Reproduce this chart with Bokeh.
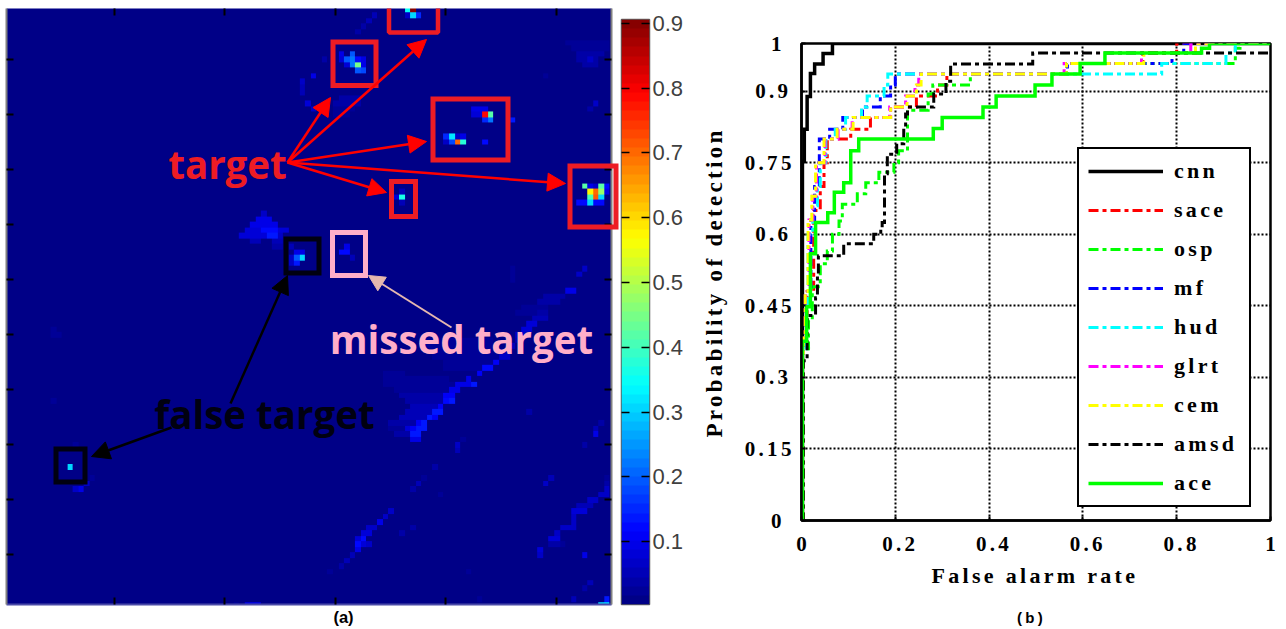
import math
import numpy as np
from bokeh.core.properties import value
from bokeh.embed import file_html
from bokeh.layouts import row, column
from bokeh.models import (Arrow, FixedTicker, Legend, LegendItem, LinearAxis, LinearColorMapper,
                          NormalHead, Range1d)
from bokeh.plotting import figure
from bokeh.resources import INLINE

# ---------- panel (a): detection map, cells are (column, row, score) ----------
target_cells = [
    (73,1,.35),(74,1,.9),(73,2,.07),(74,2,.3),(75,2,.15),
    (61,9,.1),(63,9,.2),(61,10,.08),(62,10,.2),(63,10,.22),(64,10,.12),(65,10,.1),
    (62,11,.08),(63,11,.22),(64,11,.45),(65,11,.1),(64,12,.2),(65,12,.18),
    (85,19,.1),(86,19,.1),(87,19,.1),(85,20,.08),(86,20,.08),(87,20,.78),(88,20,.42),
    (87,21,.15),(88,21,.22),(92,21,.13),
    (80,24,.15),(81,24,.32),(82,24,.06),(83,24,.1),(80,25,.06),(81,25,.18),(82,25,.7),(83,25,.37),(87,25,.12),
    (72,34,.05),(71,35,.08),(72,35,.36),(72,36,.05),
    (105,33,.42),(106,33,.1),(107,33,.06),(108,33,.42),(109,33,.12),
    (106,34,.58),(107,34,.7),(108,34,.47),(109,34,.1),
    (106,35,.4),(107,35,.72),(108,35,.3),
    (104,36,.12),(105,36,.12),(106,36,.3),(107,36,.12),(108,36,.12),
    (62,44,.1),(61,45,.12),(62,45,.12),(63,46,.05),
]
false_cells = [
    (52,44,.05),(53,45,.1),(54,45,.1),(52,46,.07),(53,46,.2),(54,46,.3),(52,47,.07),(53,47,.14),
    (12,84,.3),(13,88,.06),(14,88,.1),(15,87,.07),(16,86,.03),
    (109,109,.3),(108,109,.3),(109,108,.13),(44,109,.1),(45,109,.1),(46,109,.1),(42,109,.03),
]
clutter_cells = [
    (67,2,.05),(66,3,.05),(65,4,.04),(64,5,.04),(58,10,.04),
    (56,13,.1),(54,14,.07),(54,15,.05),(54,16,.05),(55,18,.08),(56,19,.06),
    (106,10,.07),(107,18,.06),(106,19,.04),(98,13,.03),
    (102,52,.1),(103,52,.09),(104,49,.06),(105,48,.07),
    (9,59,.03),(9,60,.03),(10,60,.03),(9,72,.03),(13,80,.02),
    (82,80,.06),(82,81,.05),(83,79,.03),(78,84,.04),(76,86,.03),(75,87,.05),(74,88,.04),(79,89,.03),
    (72,96,.04),(74,95,.04),(84,103,.03),(86,108,.03),
    (107,78,.09),(107,77,.05),(108,76,.04),(105,80,.04),(98,87,.07),(99,86,.05),
    (105,100,.09),(106,105,.05),(105,106,.04),(103,108,.05),(95,74,.04),
]
blob_runs = [  # (row, first column, last column, score)
    (38,47,47,.07),(39,46,48,.1),(40,45,49,.1),(41,44,46,.08),(41,47,49,.12),(41,50,51,.08),
    (42,43,47,.08),(42,48,49,.13),(42,50,50,.06),(43,45,46,.05),(43,49,50,.05),(44,49,50,.04),
    (7,102,109,.025),(8,103,109,.03),(9,104,108,.035),(10,104,107,.04),(11,105,107,.035),
    (17,61,64,.035),(18,60,64,.035),(19,60,63,.025),(20,60,62,.025),
    (48,92,92,.025),(49,92,92,.025),(50,92,92,.025),(53,98,101,.035),(54,97,100,.035),(55,94,98,.025),(56,93,97,.025),
]
ridge_runs = [
    (67,69,72,.02),(68,69,73,.02),(68,74,80,.025),(69,69,72,.025),(69,73,81,.03),(70,71,80,.03),
    (71,72,79,.04),(72,73,79,.045),(73,74,78,.05),(74,73,77,.05),(75,72,76,.05),(76,70,74,.04),
    (77,70,72,.03),(78,71,73,.04),(61,76,88,.02),(62,76,88,.02),(63,78,90,.02),(64,78,89,.02),(65,80,88,.02),(66,80,86,.02),
    (79,74,75,.1),(78,74,75,.13),(77,73,73,.08),(77,74,74,.11),(77,75,75,.13),(77,76,76,.14),
    (76,75,75,.11),(76,76,76,.14),(75,77,77,.13),(75,78,78,.11),(74,78,79,.14),(73,79,79,.11),
    (72,80,80,.12),(72,81,81,.14),(71,80,81,.11),(70,81,82,.09),(69,82,84,.1),(69,85,85,.13),
    (68,84,84,.1),(67,86,86,.11),(66,87,88,.12),(65,89,89,.11),(64,90,91,.06),(63,91,91,.05),
    (62,92,92,.05),(61,93,93,.05),(60,93,94,.06),(59,94,95,.08),(58,95,96,.08),(57,96,98,.05),(56,97,98,.04),
    (92,70,70,.06),(93,69,69,.07),(94,68,68,.1),(95,66,67,.07),(96,65,66,.08),(97,64,64,.08),(97,65,65,.12),
    (98,64,64,.12),(98,65,65,.08),(98,66,66,.06),(99,64,64,.1),(100,63,63,.05),(101,62,62,.05),(102,61,61,.04),(103,59,59,.03),
    (100,97,97,.07),(99,97,97,.08),(98,99,100,.04),(98,101,101,.03),(97,99,100,.08),(96,100,100,.07),
    (95,101,103,.07),(94,103,103,.06),(93,103,103,.06),(92,103,105,.08),(91,104,106,.05),(90,106,107,.06),
    (89,108,109,.07),(88,109,109,.06),(87,109,109,.04),(86,109,109,.03),
]
map_x_ticks = [20, 40, 60, 80, 100]
map_y_ticks = [10, 20, 30, 40, 50, 60, 70, 80, 90, 100]
colorbar_ticks = [.1, .2, .3, .4, .5, .6, .7, .8, .9]

# overlays of panel (a), given in page pixels of the picture
red_box_l = [332.5, 432.5, 391, 569.5]
red_box_r = [375.5, 507.5, 415, 615.5]
red_box_t = [41.5, 98.5, 181, 165.5]
red_box_b = [85, 159.5, 216, 226.5]
top_box = (388.5, 437.5, -10, 32)
black_box_l = [285.5, 55.5]
black_box_r = [318.5, 84.5]
black_box_t = [238.5, 448.5]
black_box_b = [272.5, 481.5]
pink_box = (332, 365, 232, 275)
red_arrows = [(287, 162, 330, 97), (287, 162, 426, 39), (287, 162, 426, 141), (287, 162, 565, 183), (287, 162, 386, 192)]
black_arrows = [(230, 403, 287, 275), (171, 427, 91, 456)]
pink_arrow = (451, 327, 368, 275)

# ---------- panel (b): ROC curves ----------
cnn_fa = [0, .002, .006, .012, .019, .028, .046, .066, 1]
cnn_pd = [0, .753, .82, .889, .937, .957, .979, 1, 1]
sace_fa = [0, .004, .012, .026, .04, .048, .055, .105, .147, .19, .245, .29, .31, .565, .728, .80, 1]
sace_pd = [0, .38, .48, .65, .70, .75, .80, .82, .845, .867, .89, .913, .936, .958, .98, 1, 1]
osp_fa = [0, .004, .015, .023, .04, .055, .066, .08, .087, .119, .137, .165, .197, .207, .226, .27, .28, .36, .565, .925, .935, 1]
osp_pd = [0, .36, .42, .49, .538, .565, .60, .628, .663, .685, .708, .73, .75, .775, .86, .894, .913, .936, .958, .99, 1, 1]
mf_fa = [0, .004, .009, .02, .028, .038, .06, .088, .13, .168, .19, .2, .567, .79, .815, 1]
mf_pd = [0, .38, .48, .63, .70, .80, .82, .845, .867, .89, .913, .936, .958, .98, 1, 1]
hud_fa = [0, .004, .010, .014, .024, .034, .04, .052, .072, .094, .128, .14, .176, .184, .768, .905, .925, 1]
hud_pd = [0, .36, .45, .60, .66, .70, .75, .80, .82, .845, .867, .89, .913, .936, .958, .98, 1, 1]
glrt_fa = [0, .004, .008, .016, .024, .032, .05, .078, .108, .188, .222, .242, .25, .56, .725, .83, 1]
glrt_pd = [0, .39, .48, .63, .68, .75, .80, .82, .845, .867, .89, .913, .936, .958, .98, 1, 1]
cem_fa = [0, .004, .008, .014, .022, .03, .048, .076, .11, .19, .225, .245, .255, .565, .73, .84, 1]
cem_pd = [0, .39, .48, .63, .68, .75, .80, .82, .845, .867, .89, .913, .936, .958, .98, 1, 1]
amsd_fa = [0, .004, .012, .03, .034, .036, .09, .154, .169, .172, .177, .183, .203, .218, .222, .226, .282, .308, .318, .493, 1]
amsd_pd = [0, .335, .43, .467, .513, .555, .58, .60, .614, .625, .727, .768, .79, .824, .852, .867, .894, .921, .957, .98, .98]
ace_fa = [0, .002, .011, .019, .03, .056, .07, .09, .105, .122, .281, .30, .387, .415, .498, .534, .594, .647, .853, .87, 1]
ace_pd = [0, .376, .448, .559, .625, .645, .688, .708, .775, .80, .822, .845, .867, .89, .913, .936, .958, .98, .99, 1, 1]
roc_x_ticks = [0, .2, .4, .6, .8, 1]
roc_y_ticks = [0, .15, .3, .45, .6, .75, .9, 1]

LOW, HIGH = .003, .906


def jet(n=64):
    out = []
    for i in range(n):
        t = (i + .5) / n * 4
        r = np.clip(min(t - 1.5, 4.5 - t), 0, 1)
        g = np.clip(min(t - .5, 3.5 - t), 0, 1)
        b = np.clip(min(t + .5, 2.5 - t), 0, 1)
        out.append("#%02x%02x%02x" % (int(r * 255), int(g * 255), int(b * 255)))
    return out


mapper = LinearColorMapper(palette=jet(), low=LOW, high=HIGH)

grid = np.zeros((110, 110))
for r, c0, c1, v in blob_runs + ridge_runs:
    grid[r - 1, c0 - 1:c1] = np.maximum(grid[r - 1, c0 - 1:c1], v)
for c, r, v in target_cells + false_cells + clutter_cells:
    grid[r - 1, c - 1] = v

HEIGHT = 629

pa = figure(width=620, height=HEIGHT, x_range=Range1d(.5, 110), y_range=Range1d(109.1, .73),
            x_axis_location=None, y_axis_location=None, toolbar_location=None, output_backend="svg",
            min_border_left=6, min_border_right=9, min_border_top=8, min_border_bottom=25,
            outline_line_color=None, background_fill_color="white")
pa.grid.visible = False
pa.extra_x_ranges = {"px": Range1d(6, 611)}
pa.extra_y_ranges = {"px": Range1d(604, 8)}
pa.image(image=[grid], x=.5, y=.5, dw=110, dh=110, color_mapper=mapper)

for side, ticks, col in (("below", map_x_ticks, "#4a4aa8"), ("above", map_x_ticks, None),
                         ("left", map_y_ticks, "#808080"), ("right", map_y_ticks, "#808080")):
    ax = LinearAxis(ticker=FixedTicker(ticks=ticks), major_tick_in=7, major_tick_out=0, minor_tick_in=0,
                    minor_tick_out=0, major_tick_line_color="black", major_tick_line_width=2,
                    axis_line_color=col, axis_line_width=2, major_label_text_font_size="0px",
                    major_label_standoff=0, major_label_text_color=None)
    pa.add_layout(ax, side)

PX = dict(x_range_name="px", y_range_name="px")
pa.quad(left=[top_box[0]], right=[top_box[1]], top=[top_box[2]], bottom=[top_box[3]], fill_color=None,
        line_color="#ED1C24", line_width=4.5, **PX)
pa.quad(left=red_box_l, right=red_box_r, top=red_box_t, bottom=red_box_b, fill_color=None,
        line_color="#ED1C24", line_width=5, level="overlay", line_join="miter", **PX)
pa.quad(left=black_box_l, right=black_box_r, top=black_box_t, bottom=black_box_b, fill_color=None,
        line_color="#000010", line_width=5, level="overlay", line_join="miter", **PX)
pa.quad(left=[pink_box[0]], right=[pink_box[1]], top=[pink_box[2]], bottom=[pink_box[3]], fill_color=None,
        line_color="#FFAEC9", line_width=5, level="overlay", line_join="miter", **PX)
for a, colr, w, sz in ([(q, "#FF0000", 2.5, 18) for q in red_arrows] + [(q, "black", 2.5, 18) for q in black_arrows]
                       + [(pink_arrow, "#E6B8AF", 2, 16)]):
    pa.add_layout(Arrow(x_start=a[0], y_start=a[1], x_end=a[2], y_end=a[3], line_color=colr, line_width=w,
                        end=NormalHead(size=sz, fill_color=colr, line_color=colr), level="overlay", **PX))

labels = [("target", 227, 163, "#ED1C24"), ("missed target", 461, 338, "#FFAEC9"), ("false target", 264, 413, "#000010")]
for t, x, y, c in labels:
    pa.text(x=[x], y=[y], text=[t], text_color=c, text_font=value("Open Sans"), text_font_style="bold",
            text_font_size="38.5px", text_align="center", text_baseline="alphabetic", level="overlay", **PX)
pa.text(x=[343], y=[616.5], text=["(a)"], text_color="black", text_font=value("Liberation Sans"), text_font_style="bold",
        text_font_size="16.5px", text_align="center", text_baseline="alphabetic", level="overlay", **PX)

# colour bar as a small image figure with ticks on both edges
levels = np.linspace(LOW, HIGH, 64).reshape(-1, 1)
pc = figure(width=80, height=HEIGHT, x_range=Range1d(0, 1), y_range=Range1d(LOW, HIGH), x_axis_location=None,
            y_axis_location=None, toolbar_location=None, output_backend="svg", min_border_left=1, min_border_right=51,
            min_border_top=19, min_border_bottom=25, outline_line_color="#606060", outline_line_width=1.5)
pc.grid.visible = False
pc.image(image=[levels], x=0, y=LOW, dw=1, dh=HIGH - LOW, color_mapper=mapper)
for side, sz, col in (("left", "0px", None), ("right", "22px", "#404040")):
    ax = LinearAxis(ticker=FixedTicker(ticks=colorbar_ticks), major_tick_in=8, major_tick_out=0, minor_tick_in=0,
                    minor_tick_out=0, axis_line_color=None, major_tick_line_color="black", major_tick_line_width=1.5,
                    major_label_text_font_size=sz, major_label_text_color=col, major_label_standoff=3,
                    major_label_text_font=("Liberation Sans"))
    pc.add_layout(ax, side)

# ROC panel
SERIF = "Liberation Serif"
pb = figure(width=586, height=HEIGHT, x_range=Range1d(0, 1), y_range=Range1d(0, 1),
            toolbar_location=None, output_backend="svg", min_border_left=101, min_border_right=16,
            min_border_top=43, min_border_bottom=109, outline_line_color="black", outline_line_width=2.5,
            stylesheets=[":host{letter-spacing:3.3px}"])
pb.xaxis.ticker = FixedTicker(ticks=roc_x_ticks)
pb.yaxis.ticker = FixedTicker(ticks=roc_y_ticks)
pb.xaxis.major_label_overrides = {0: "0", 1: "1", .2: "0.2", .4: "0.4", .6: "0.6", .8: "0.8"}
pb.yaxis.major_label_overrides = {0: "0", 1: "1", .15: "0.15", .3: "0.3", .45: "0.45", .6: "0.6", .75: "0.75", .9: "0.9"}
pb.axis.major_tick_in = 4
pb.axis.major_tick_out = 0
pb.axis.minor_tick_in = 0
pb.axis.minor_tick_out = 0
pb.axis.major_tick_line_width = 2
pb.axis.axis_line_width = 2.5
pb.axis.major_label_text_font = SERIF
pb.axis.major_label_text_font_style = "bold"
pb.axis.major_label_text_font_size = "21px"
pb.axis.major_label_text_color = "black"
pb.xaxis.major_label_standoff = 16
pb.yaxis.major_label_standoff = 20
pb.grid.grid_line_color = "black"
pb.grid.grid_line_dash = "2 2"
pb.grid.grid_line_width = 2
pb.grid.level = "underlay"
pb.xgrid.ticker = FixedTicker(ticks=roc_x_ticks)
pb.ygrid.ticker = FixedTicker(ticks=roc_y_ticks)

DD = "10 4 4 4"
series = [
    ("cnn", cnn_fa, cnn_pd, "#000000", 3.5, "solid"),
    ("sace", sace_fa, sace_pd, "#FF0000", 3, DD),
    ("osp", osp_fa, osp_pd, "#00FF00", 3, DD),
    ("mf", mf_fa, mf_pd, "#0000FF", 3, DD),
    ("hud", hud_fa, hud_pd, "#00FFFF", 3, DD),
    ("glrt", glrt_fa, glrt_pd, "#FF00FF", 3, DD),
    ("cem", cem_fa, cem_pd, "#FFFF00", 3, DD),
    ("amsd", amsd_fa, amsd_pd, "#000000", 3, DD),
    ("ace", ace_fa, ace_pd, "#00FF00", 3.5, "solid"),
]
items = []
for name, fa, pd_, col, w, dash in series:
    r = pb.step(fa, pd_, mode="after", line_color=col, line_width=w, line_dash=dash, line_join="miter")
    items.append(LegendItem(label=name, renderers=[r]))

leg = Legend(items=items, location=(276, 13), orientation="vertical", glyph_width=75, glyph_height=20,
             label_height=20, spacing=13, padding=9, margin=0, label_standoff=11, label_width=66,
             border_line_color="black", border_line_alpha=1, border_line_width=2.5, background_fill_alpha=1,
             label_text_font=SERIF, label_text_font_style="bold", label_text_font_size="22px",
             label_text_color="black")
pb.add_layout(leg, "center")
pb.extra_x_ranges = {"px": Range1d(801, 1270)}
pb.extra_y_ranges = {"px": Range1d(520, 43)}
axis_text = dict(text_color="black", text_font=value(SERIF), text_font_style="bold",
                 text_baseline="alphabetic", text_align="left", level="overlay", **PX)
pb.text(x=[931], y=[575], text=["False alarm rate"], text_font_size="22px", **axis_text)
pb.text(x=[714], y=[437], text=["Probability of detection"], angle=math.pi / 2, text_font_size="23px", **axis_text)
pb.text(x=[1026], y=[616.5], text=["(b)"], text_color="black", text_font=value("Liberation Sans"), text_font_style="bold",
        text_font_size="15px", text_align="center", text_baseline="alphabetic", level="overlay", **PX)

root = row(column(pa), column(pc), column(pb), spacing=0)
open("out.html", "w").write(file_html(root, INLINE))
